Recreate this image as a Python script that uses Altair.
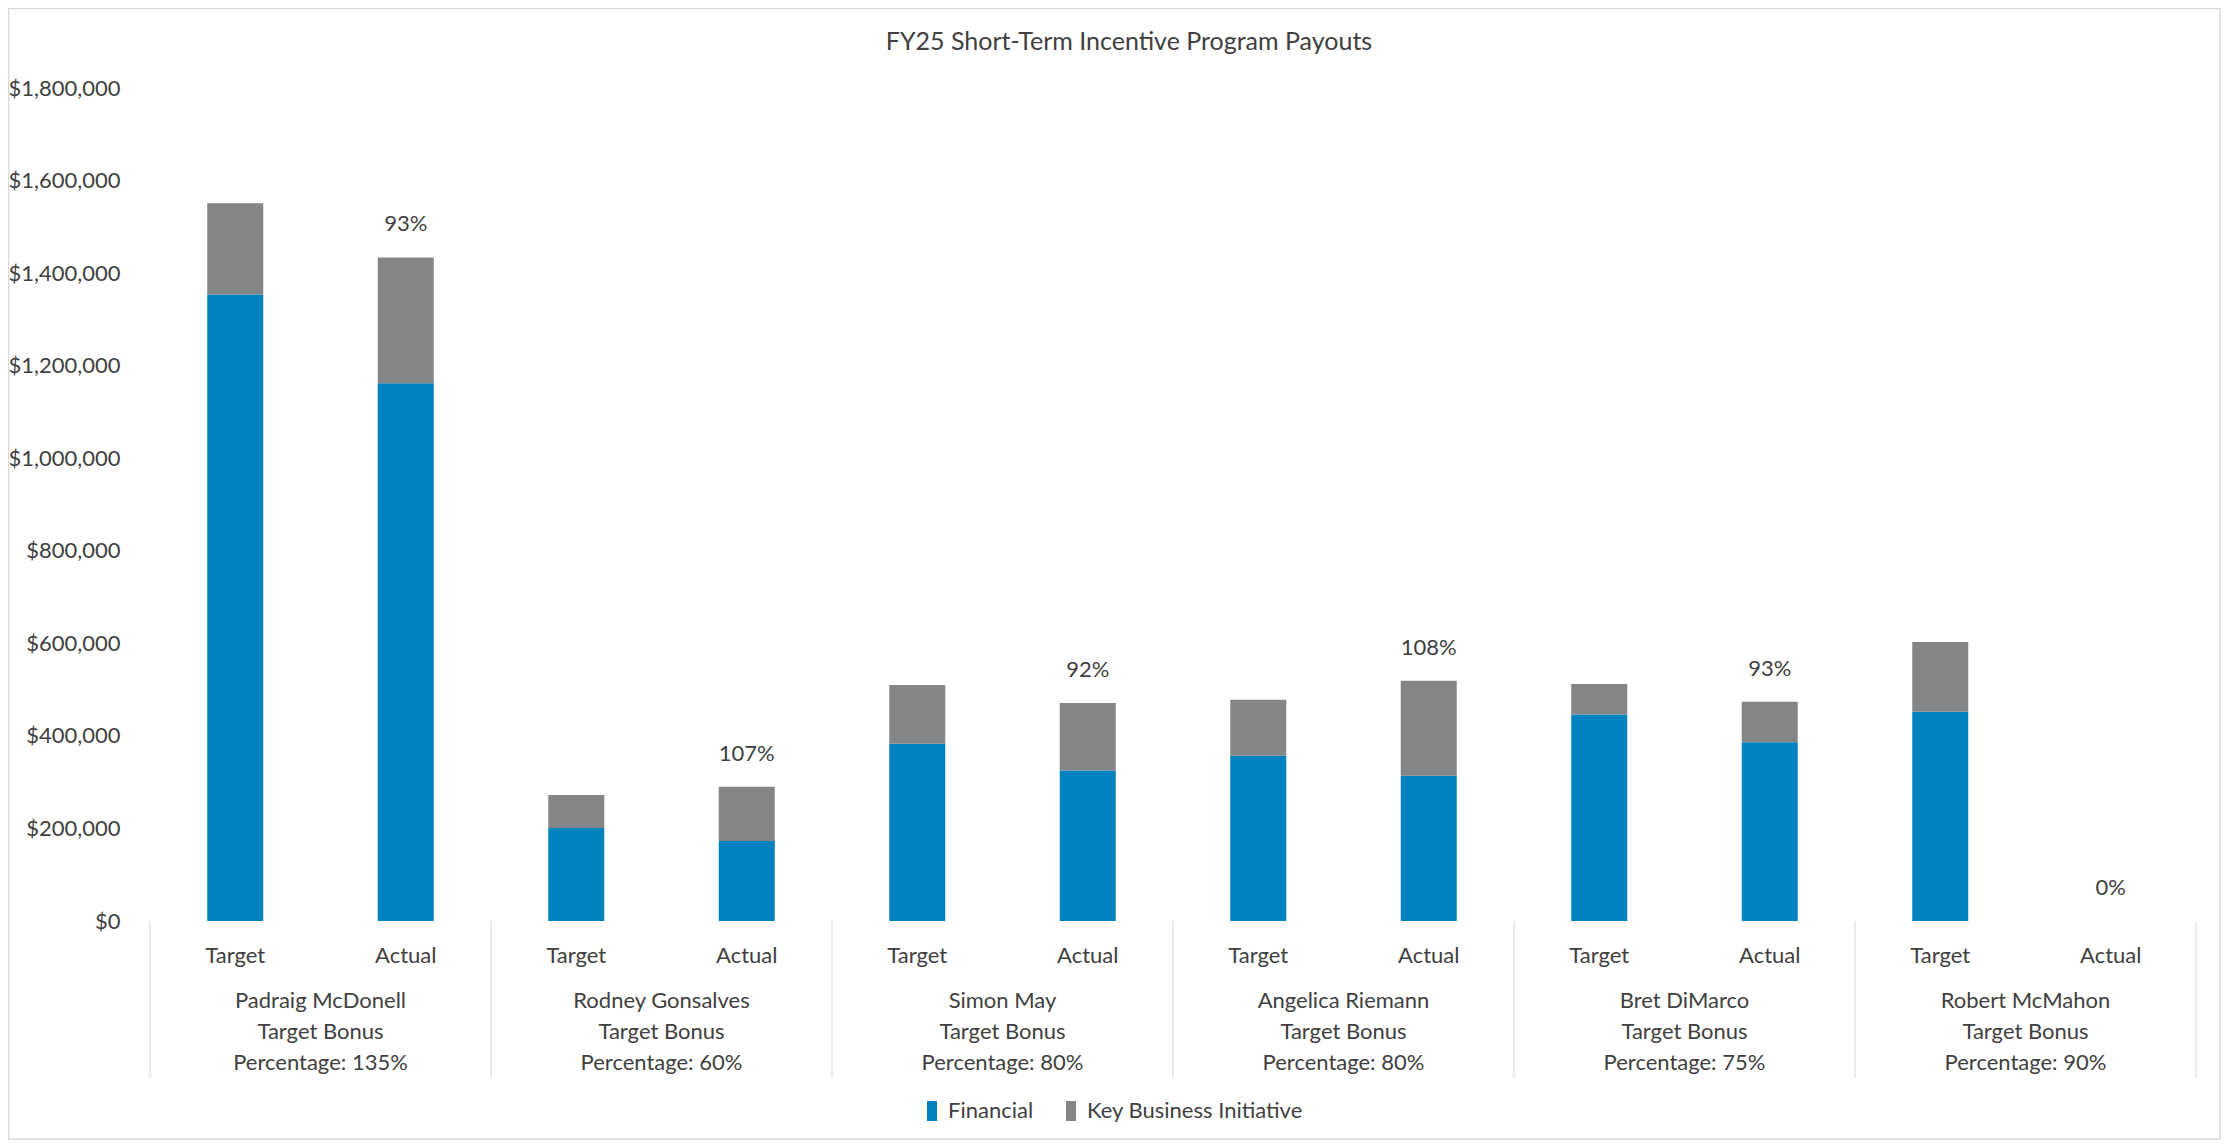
import altair as alt
import pandas as pd

# ---- data ----
names = ["Padraig McDonell", "Rodney Gonsalves", "Simon May",
         "Angelica Riemann", "Bret DiMarco", "Robert McMahon"]
bonus_pct = ["135%", "60%", "80%", "80%", "75%", "90%"]
subs = ["Target", "Actual"]
target_financial = [1354000, 201000, 383000, 357000, 446000, 452000]
target_kbi = [197000, 71000, 127000, 121000, 66000, 151000]
actual_financial = [1162000, 173000, 325000, 314000, 386000, 0]
actual_kbi = [272000, 117000, 146000, 205000, 88000, 0]
payout_labels = ["93%", "107%", "92%", "108%", "93%", "0%"]
components = ["Financial", "Key Business Initiative"]
colors = ["#0082C0", "#848587"]
y_ticks = [0, 200000, 400000, 600000, 800000, 1000000, 1200000, 1400000, 1600000, 1800000]

FONT = "Lato"
TXT = "#404040"
W, H = 2056, 833
PL, PT, PR, PB = 137, 80, 20, 219

# ---- tables ----
bar_rows, sub_rows, pct_rows, grp_rows = [], [], [], []
for i, n in enumerate(names):
    vals = {"Target": (target_financial[i], target_kbi[i]),
            "Actual": (actual_financial[i], actual_kbi[i])}
    for j, s in enumerate(subs):
        idx = 2 * i + j
        fin, kbi = vals[s]
        bar_rows.append({"idx": idx, "component": components[0], "order": 0, "value": fin})
        bar_rows.append({"idx": idx, "component": components[1], "order": 1, "value": kbi})
        sub_rows.append({"idx": idx, "sub": s})
        if s == "Actual":
            pct_rows.append({"idx": idx, "total": fin + kbi, "label": payout_labels[i]})
    grp_rows.append({"center": 2 * i + 0.5,
                     "label": f"{n}\nTarget Bonus\nPercentage: {bonus_pct[i]}"})

bars_df = pd.DataFrame(bar_rows)
sub_df = pd.DataFrame(sub_rows)
pct_df = pd.DataFrame(pct_rows)
grp_df = pd.DataFrame(grp_rows)
n_pos = 2 * len(names)
sep_df = pd.DataFrame({"pos": [2 * k - 0.5 for k in range(len(names) + 1)]})

xscale = alt.Scale(domain=[-0.5, n_pos - 0.5], nice=False, zero=False)

bars = alt.Chart(bars_df).mark_bar(size=56).encode(
    x=alt.X("idx:Q", scale=xscale,
            axis=alt.Axis(labels=False, ticks=False, grid=False, title=None,
                          domainColor="#BFBFBF", domainWidth=2)),
    y=alt.Y("value:Q", stack="zero",
            scale=alt.Scale(domain=[0, 1800000], nice=False),
            axis=alt.Axis(values=y_ticks, format="$,.0f", domain=False, ticks=False,
                          grid=False, labelPadding=25, labelFontSize=22,
                          labelFont=FONT, labelColor=TXT, title=None)),
    color=alt.Color("component:N", scale=alt.Scale(domain=components, range=colors),
                    legend=alt.Legend(title=None, orient="none", legendX=776, legendY=1012,
                                      direction="horizontal", labelFontSize=22,
                                      labelFont=FONT, labelColor=TXT, labelLimit=0,
                                      symbolType="M-0.5,-1H0.5V1H-0.5Z", symbolSize=400,
                                      symbolStrokeWidth=0, columnPadding=26, labelOffset=5)),
    order=alt.Order("order:Q"),
)

pct = alt.Chart(pct_df).mark_text(fontSize=22, font=FONT, color=TXT, dy=-33,
                                  baseline="middle").encode(
    x=alt.X("idx:Q", scale=xscale, axis=None),
    y=alt.Y("total:Q"),
    text="label:N",
)

seps = alt.Chart(sep_df).mark_rule(color="#D9D9D9", strokeWidth=1).encode(
    x=alt.X("pos:Q", scale=xscale, axis=None),
    y=alt.value(H),
    y2=alt.value(H + 157),
)

sub_txt = alt.Chart(sub_df).mark_text(fontSize=22, font=FONT, color=TXT,
                                      baseline="middle").encode(
    x=alt.X("idx:Q", scale=xscale, axis=None),
    y=alt.value(H + 35),
    text="sub:N",
)

grp_txt = alt.Chart(grp_df).mark_text(fontSize=22, font=FONT, color=TXT, baseline="top",
                                      lineBreak="\n", lineHeight=31).encode(
    x=alt.X("center:Q", scale=xscale, axis=None),
    y=alt.value(H + 70),
    text="label:N",
)

border = alt.Chart(pd.DataFrame({"a": [0]})).mark_rect(
    fill=None, stroke="#D9D9D9", strokeWidth=1.5).encode(
    x=alt.value(-PL + 0.5), x2=alt.value(W + PR - 1),
    y=alt.value(-PT + 0.5), y2=alt.value(H + PB - 1),
)

chart = alt.layer(border, seps, bars, pct, sub_txt, grp_txt).properties(
    width=W, height=H,
    autosize=alt.AutoSizeParams(type="none"),
    padding={"left": PL, "top": PT, "right": PR, "bottom": PB},
    title=alt.TitleParams("FY25 Short-Term Incentive Program Payouts", fontSize=25,
                          font=FONT, color=TXT, fontWeight="normal", anchor="middle",
                          frame="group", dx=-44, offset=-47),
).configure_view(stroke=None)

chart.save("out.html", embed_options={"renderer": "svg", "actions": False})
